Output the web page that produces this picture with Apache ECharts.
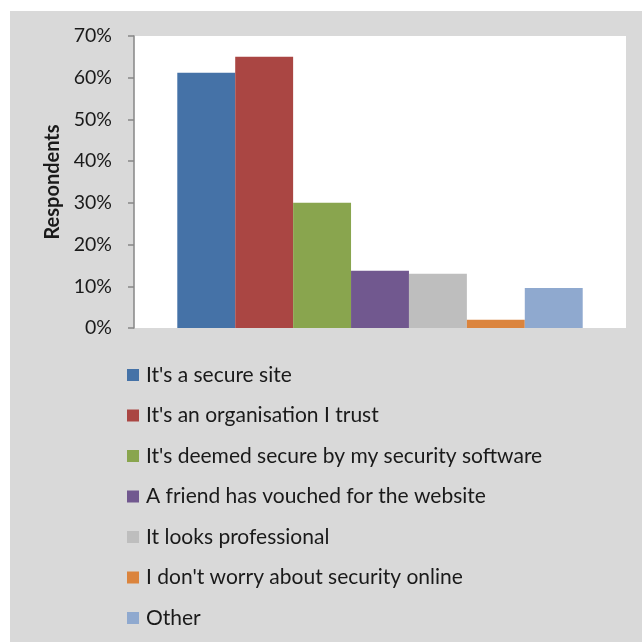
<!DOCTYPE html>
<html>
<head>
<meta charset="utf-8">
<script src="https://cdn.jsdelivr.net/npm/echarts@6/dist/echarts.min.js"></script>
<style>
  html, body { margin: 0; padding: 0; background: #ffffff; }
  #chart { width: 642px; height: 642px; }
</style>
</head>
<body>
<div id="chart"></div>
<script>
// Reasons respondents give for trusting a website (share of respondents, %)
const seriesNames = [
  "It's a secure site",
  "It's an organisation I trust",
  "It's deemed secure by my security software",
  "A friend has vouched for the website",
  "It looks professional",
  "I don't worry about security online",
  "Other"
];
const seriesValues = [61.2, 65, 30, 13.7, 13, 2, 9.6];
const seriesColors = ['#4572a7', '#aa4643', '#89a54e', '#71588f', '#bebebe', '#db843d', '#8fa9cf'];
const categories = [''];
const yTicks = { min: 0, max: 70, interval: 10 };

const FONT = 'Lato, "Open Sans", sans-serif';

const chart = echarts.init(document.getElementById('chart'), null, { renderer: 'canvas' });

const series = seriesNames.map((name, i) => ({
  name: name,
  type: 'bar',
  data: [seriesValues[i]],
  itemStyle: { color: seriesColors[i] },
  barGap: '0%',
  barCategoryGap: '17.6%'
}));

chart.setOption({
  backgroundColor: '#ffffff',
  animation: false,
  graphic: [{
    type: 'rect',
    z: -10,
    silent: true,
    shape: { x: 10, y: 11, width: 632, height: 631 },
    style: { fill: '#d9d9d9' }
  }],
  grid: {
    left: 134, top: 36, right: 16, bottom: 314,
    show: true, backgroundColor: '#ffffff', borderWidth: 0
  },
  legend: {
    orient: 'vertical',
    left: 127,
    top: 364.5,
    padding: 0,
    itemWidth: 12,
    itemHeight: 12,
    itemGap: 19.5,
    icon: 'rect',
    textStyle: { fontFamily: FONT, fontSize: 21, color: '#1a1a1a', padding: [0, 0, 0, 2] },
    data: seriesNames
  },
  xAxis: {
    type: 'category',
    data: categories,
    axisLine: { show: false },
    axisTick: { show: false },
    axisLabel: { show: false }
  },
  yAxis: {
    type: 'value',
    min: yTicks.min,
    max: yTicks.max,
    interval: yTicks.interval,
    name: 'Respondents',
    nameLocation: 'middle',
    nameGap: 64,
    nameTextStyle: { fontFamily: FONT, fontSize: 20, fontWeight: 'bold', color: '#1a1a1a' },
    axisLine: { show: true, lineStyle: { color: '#868686', width: 1.5 } },
    axisTick: { show: true, length: 6, lineStyle: { color: '#868686', width: 1.5 } },
    axisLabel: {
      formatter: '{value}%',
      margin: 22,
      fontFamily: FONT,
      fontSize: 19.5,
      color: '#1a1a1a'
    },
    splitLine: { show: false }
  },
  series: series
});
</script>
</body>
</html>
